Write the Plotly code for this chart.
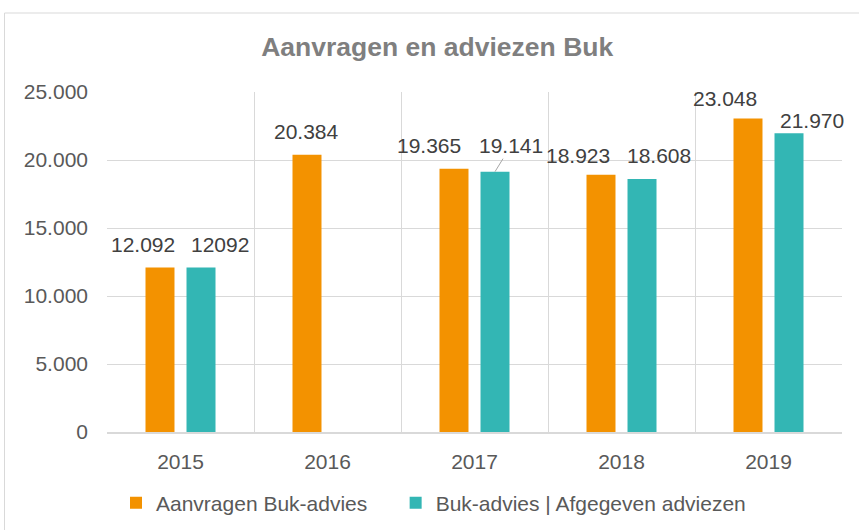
import plotly.graph_objects as go

years = ["2015", "2016", "2017", "2018", "2019"]
aanvragen = [12092, 20384, 19365, 18923, 23048]
afgegeven = [12092, None, 19141, 18608, 21970]
aanvragen_labels = ["12.092", "20.384", "19.365", "18.923", "23.048"]
afgegeven_labels = ["12092", "", "19.141", "18.608", "21.970"]
series_names = ["Aanvragen Buk-advies", "Buk-advies | Afgegeven adviezen"]

ORANGE = "#F39200"
TEAL = "#33B6B4"
FONT = "Liberation Sans, Arial, sans-serif"

# label offsets in pixels (dx relative to bar centre, dy above bar top)
aan_dx = [-17, -1, -25, -23, -23]
aan_dy = [23.5, 23, 23, 19, 20]
afg_dx = [18.5, 0, 16, 17, 22.5]
afg_dy = [23.5, 0, 26, 23, 12.5]
BAR_OFF = 20.5
PAD = "\u00a0" * 4  # extra spacing after first legend entry

fig = go.Figure()
fig.add_bar(name=series_names[0] + PAD, x=years, y=aanvragen,
            marker=dict(color=ORANGE, line=dict(width=0)))
fig.add_bar(name=series_names[1], x=years, y=afgegeven,
            marker=dict(color=TEAL, line=dict(width=0)))

annotations = []
for i, yv in enumerate(years):
    annotations.append(dict(x=i, y=aanvragen[i], xref="x", yref="y",
                            text=aanvragen_labels[i], showarrow=False,
                            xshift=-BAR_OFF + aan_dx[i], yshift=aan_dy[i],
                            yanchor="middle",
                            font=dict(family=FONT, size=21, color="#404040")))
    if afgegeven[i] is None:
        continue
    if yv == "2017":
        annotations.append(dict(x=i, y=afgegeven[i], xref="x", yref="y",
                                text=afgegeven_labels[i], showarrow=True,
                                arrowhead=0, arrowwidth=1, arrowcolor="#A6A6A6",
                                ax=afg_dx[i], ay=-afg_dy[i], xshift=BAR_OFF,
                                standoff=0, startstandoff=0,
                                font=dict(family=FONT, size=21, color="#404040")))
    else:
        annotations.append(dict(x=i, y=afgegeven[i], xref="x", yref="y",
                                text=afgegeven_labels[i], showarrow=False,
                                xshift=BAR_OFF + afg_dx[i], yshift=afg_dy[i],
                                yanchor="middle",
                                font=dict(family=FONT, size=21, color="#404040")))

fig.update_layout(
    width=859, height=530,
    margin=dict(l=107, r=17, t=92, b=98, autoexpand=False),
    paper_bgcolor="white", plot_bgcolor="white",
    separators=",.",
    barmode="group", bargap=0.442, bargroupgap=0.293,
    font=dict(family=FONT, size=21, color="#595959"),
    title=dict(text="<b>Aanvragen en adviezen Buk</b>", x=0.509, xanchor="center",
               y=1 - 47 / 530, yanchor="middle",
               font=dict(family=FONT, size=26.5, color="#7F7F7F")),
    showlegend=True,
    legend=dict(orientation="h", xref="container", yref="container",
                x=116 / 859, xanchor="left", y=1 - 503 / 530, yanchor="middle",
                font=dict(family=FONT, size=21, color="#595959"),
                bgcolor="rgba(0,0,0,0)"),
    annotations=annotations,
    shapes=[dict(type="rect", xref="paper", yref="paper",
                 x0=(4.5 - 107) / 735, x1=(880 - 107) / 735,
                 y0=(432 - 560) / 340, y1=(432 - 13) / 340,
                 line=dict(color="#D9D9D9", width=1), fillcolor="rgba(0,0,0,0)",
                 layer="below")],
)
fig.update_xaxes(type="category", range=[-0.5, len(years) - 0.5],
                 tickson="boundaries", showgrid=True,
                 gridcolor="#D9D9D9", gridwidth=1, ticks="",
                 showline=True, linecolor="#D9D9D9", linewidth=1.5,
                 ticklabelstandoff=10, tickangle=0,
                 tickfont=dict(family=FONT, size=21, color="#595959"))
fig.update_yaxes(range=[0, 25000], dtick=5000, tickformat=",d",
                 showgrid=True, gridcolor="#D9D9D9", gridwidth=1,
                 zeroline=False, ticks="", showline=False,
                 ticklabelstandoff=18,
                 tickfont=dict(family=FONT, size=21, color="#595959"))

fig.write_html("out.html")
